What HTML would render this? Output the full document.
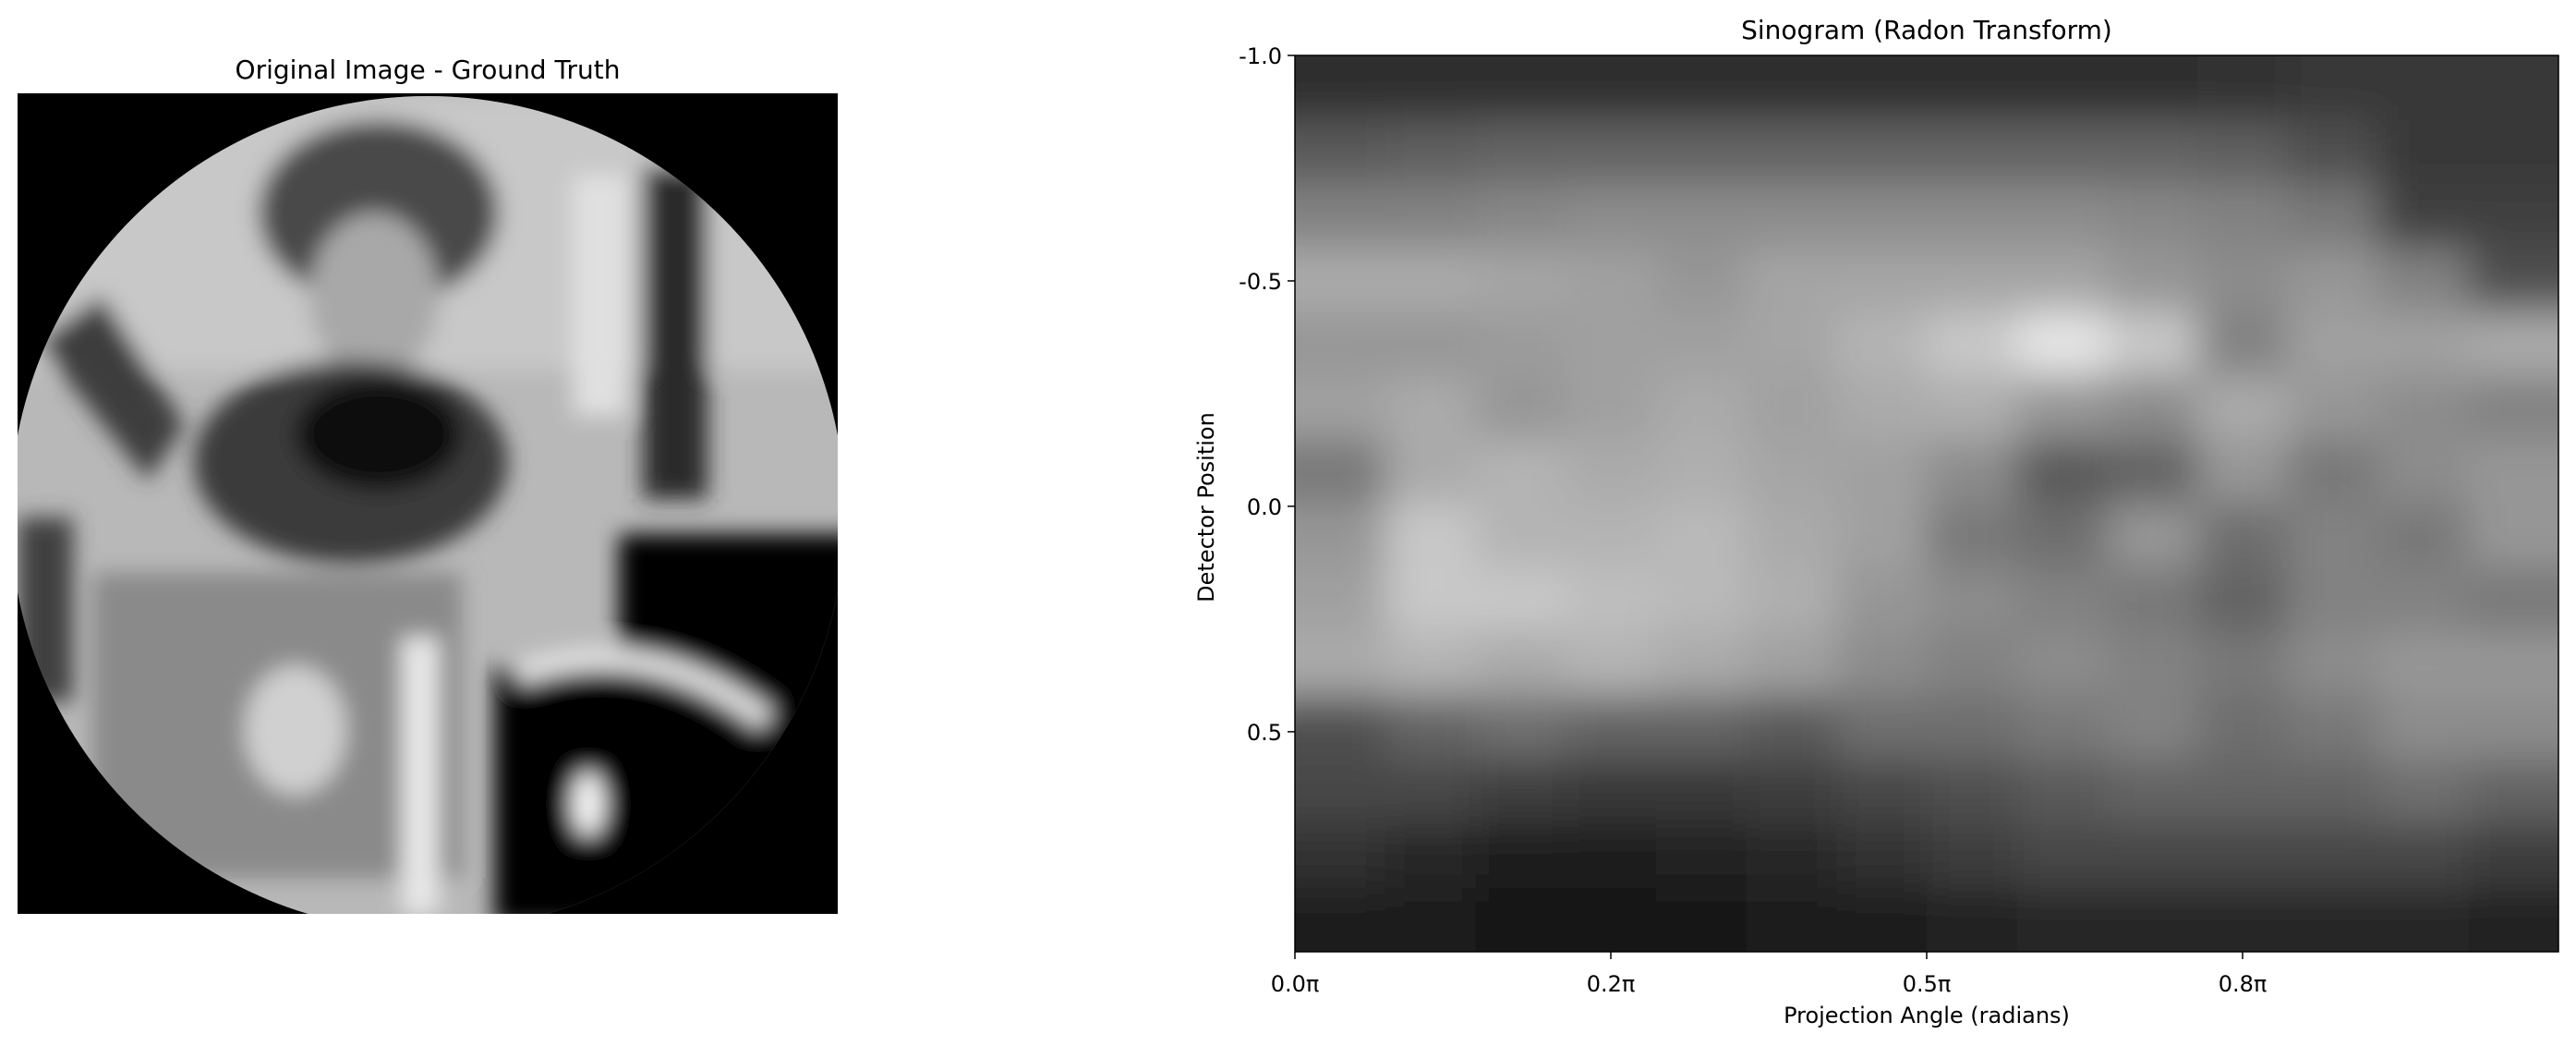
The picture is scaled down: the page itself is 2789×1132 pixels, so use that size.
<!DOCTYPE html>
<html><head><meta charset="utf-8"><style>
body{margin:0;background:#fff;width:2789px;height:1132px;overflow:hidden}
svg{display:block}
text{font-family:"DejaVu Sans","Liberation Sans",sans-serif;fill:#000}
</style></head><body>
<svg id="fig" width="2789" height="1132" viewBox="0 0 2789 1132">
<defs>
<clipPath id="circ"><circle cx="463" cy="556" r="452"/></clipPath>
<clipPath id="leftbox"><rect x="19" y="101" width="888" height="888"/></clipPath>
<clipPath id="rightbox"><rect x="1402" y="60" width="1368" height="970"/></clipPath>
<filter id="b1" x="-5%" y="-5%" width="110%" height="110%"><feGaussianBlur stdDeviation="12"/></filter>
<filter id="b2" filterUnits="userSpaceOnUse" x="1300" y="-40" width="1570" height="1170"><feGaussianBlur stdDeviation="22"/></filter>
</defs>

<!-- Left panel -->
<text x="463" y="85" font-size="28" text-anchor="middle">Original Image - Ground Truth</text>
<g clip-path="url(#leftbox)">
<rect x="19" y="101" width="888" height="888" fill="#000"/>
<g clip-path="url(#circ)">
<rect x="19" y="101" width="888" height="888" fill="#b8b8b8"/>
<g filter="url(#b1)">
<rect x="19" y="101" width="888" height="300" fill="#c8c8c8"/>
<ellipse cx="410" cy="230" rx="130" ry="100" fill="#4a4a4a"/>
<ellipse cx="405" cy="320" rx="70" ry="90" fill="#a8a8a8"/>
<polygon points="40,370 110,320 200,460 160,520" fill="#3c3c3c"/>
<ellipse cx="380" cy="500" rx="170" ry="110" fill="#3a3a3a"/>
<ellipse cx="410" cy="470" rx="90" ry="60" fill="#080808"/>
<rect x="696" y="180" width="70" height="360" fill="#2a2a2a"/>
<rect x="620" y="190" width="60" height="260" fill="#e0e0e0"/>
<rect x="19" y="560" width="60" height="200" fill="#404040"/>
<rect x="100" y="620" width="400" height="330" fill="#8a8a8a"/>
<ellipse cx="320" cy="790" rx="55" ry="70" fill="#d0d0d0"/>
<rect x="435" y="690" width="40" height="300" fill="#e8e8e8"/>
<rect x="670" y="578" width="260" height="420" fill="#000"/>
<rect x="535" y="722" width="330" height="280" fill="#000"/>
<path d="M560 730 Q700 680 830 780" stroke="#e0e0e0" stroke-width="26" fill="none"/>
<ellipse cx="637" cy="870" rx="18" ry="35" fill="#f4f4f4"/>
</g>
</g>
</g>

<!-- Right panel -->
<text x="2086" y="42" font-size="28" text-anchor="middle">Sinogram (Radon Transform)</text>
<g clip-path="url(#rightbox)"><g id="heat" filter="url(#b2)"></g></g>
<rect x="1402" y="60" width="1368" height="970" fill="none" stroke="#000" stroke-width="1.5"/>
<g id="axes"></g>
<text transform="translate(1314,549) rotate(-90)" font-size="24" text-anchor="middle">Detector Position</text>
<text x="2086" y="1107" font-size="24" text-anchor="middle">Projection Angle (radians)</text>
</svg>
<script>
const rowsCount = 14;
const colsCount = 14;
const heatValues = [
[45,45,45,45,45,45,45,45,45,45,50,55,55,55],
[90,95,100,100,100,100,100,100,100,100,95,80,55,55],
[130,130,135,140,140,140,140,140,140,135,130,120,65,65],
[170,170,165,160,150,165,165,165,165,150,140,150,130,80],
[150,150,155,160,160,165,180,200,230,200,130,160,160,170],
[160,170,150,160,170,160,170,175,150,140,170,150,140,130],
[120,170,180,170,175,165,160,140,90,100,150,120,140,150],
[150,200,180,180,185,170,160,120,110,150,110,130,120,150],
[160,200,200,190,185,175,150,140,130,120,100,130,130,120],
[170,180,170,180,170,160,140,130,140,130,120,140,150,150],
[80,100,110,100,100,90,110,110,120,130,110,120,140,140],
[70,70,60,55,55,60,70,80,90,100,100,100,110,100],
[50,40,30,30,35,40,50,60,70,70,70,70,70,60],
[30,30,25,25,25,28,30,35,40,40,40,40,40,35]
];
const yTickValues = [-1.0, -0.5, 0.0, 0.5];
const yTickLabels = ["-1.0","-0.5","0.0","0.5"];
const xTickValues = [0, 0.25, 0.5, 0.75];
const xTickLabels = ["0.0π","0.2π","0.5π","0.8π"];
const X0=1402,X1=2770,Y0=60,Y1=1030;
const yMin=-1, yMax=0.988;
function xs(v){return X0+(v/1)*(X1-X0);}
function ys(v){return Y0+(v-yMin)/(yMax-yMin)*(Y1-Y0);}
const NS="http://www.w3.org/2000/svg";
const heat=document.getElementById('heat');
const cw=(X1-X0)/colsCount, ch=(Y1-Y0)/rowsCount;
const PAD=80;
for(let r=0;r<rowsCount;r++)for(let c=0;c<colsCount;c++){
  let v=heatValues[r][c];
  let x=X0+c*cw, y=Y0+r*ch, w=cw+1, h=ch+1;
  if(c===0){x-=PAD;w+=PAD;}
  if(c===colsCount-1){w+=PAD;}
  if(r===0){y-=PAD;h+=PAD;}
  if(r===rowsCount-1){h+=PAD;}
  const el=document.createElementNS(NS,'rect');
  el.setAttribute('x',x);el.setAttribute('y',y);
  el.setAttribute('width',w);el.setAttribute('height',h);
  el.setAttribute('fill',`rgb(${v},${v},${v})`);
  
  
  heat.appendChild(el);
}
const axes=document.getElementById('axes');
yTickValues.forEach((v,i)=>{
  const y=ys(v);
  const l=document.createElementNS(NS,'line');
  l.setAttribute('x1',X0-8);l.setAttribute('x2',X0);l.setAttribute('y1',y);l.setAttribute('y2',y);
  l.setAttribute('stroke','#000');l.setAttribute('stroke-width','1.5');
  
  
  axes.appendChild(l);
  const t=document.createElementNS(NS,'text');
  t.setAttribute('x',X0-14);t.setAttribute('y',y+9);t.setAttribute('font-size','24');t.setAttribute('text-anchor','end');
  t.textContent=yTickLabels[i];
  
  
  axes.appendChild(t);
});
xTickValues.forEach((v,i)=>{
  const x=xs(v);
  const l=document.createElementNS(NS,'line');
  l.setAttribute('x1',x);l.setAttribute('x2',x);l.setAttribute('y1',Y1);l.setAttribute('y2',Y1+8);
  l.setAttribute('stroke','#000');l.setAttribute('stroke-width','1.5');
  
  
  axes.appendChild(l);
  const t=document.createElementNS(NS,'text');
  t.setAttribute('x',x);t.setAttribute('y',Y1+43);t.setAttribute('font-size','24');t.setAttribute('text-anchor','middle');
  t.textContent=xTickLabels[i];
  
  
  axes.appendChild(t);
});
</script>
</body></html>
